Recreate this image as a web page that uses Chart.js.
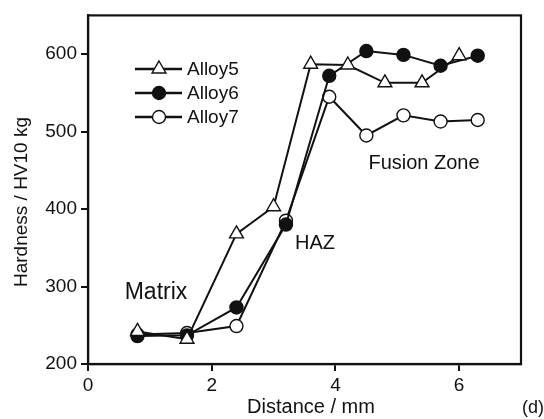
<!DOCTYPE html>
<html>
<head>
<meta charset="utf-8">
<script src="https://cdn.jsdelivr.net/npm/chart.js@4"></script>
<style>
  html, body { margin: 0; padding: 0; background: #fff; }
  #wrap { width: 544px; height: 419px; }
</style>
</head>
<body>
<div id="wrap"><canvas id="hardnessChart" width="544" height="419"></canvas></div>
<script>
// Hardness profile across the weld
const alloy5X = [0.8, 1.6, 2.4, 3.0, 3.6, 4.2, 4.8, 5.4, 6.0];
const alloy5Y = [242, 232, 368, 403, 587, 586, 563, 563, 598];

const alloy6X = [0.8, 1.6, 2.4, 3.2, 3.9, 4.5, 5.1, 5.7, 6.3];
const alloy6Y = [236, 237, 273, 380, 572, 604, 599, 585, 598];

const alloy7X = [0.8, 1.6, 2.4, 3.2, 3.9, 4.5, 5.1, 5.7, 6.3];
const alloy7Y = [238, 240, 249, 385, 545, 495, 521, 513, 515];

const seriesNames = ['Alloy5', 'Alloy6', 'Alloy7'];
const xTicks = [0, 2, 4, 6];
const yTicks = [200, 300, 400, 500, 600];

const FONT = '"Liberation Sans", Arial, Helvetica, sans-serif';
const INK = '#111';

const toPoints = (xs, ys) => xs.map((x, i) => ({ x: x, y: ys[i] }));

// frame, axis titles, zone labels and the line-marker-line legend
const decorations = {
    id: 'decorations',
    afterDatasetsDraw(chart) {
        const ctx = chart.ctx;
        const a = chart.chartArea;
        ctx.save();
        ctx.strokeStyle = INK;
        ctx.lineWidth = 2.2;
        ctx.strokeRect(a.left, a.top, a.right - a.left, a.bottom - a.top);

        ctx.fillStyle = INK;
        ctx.textBaseline = 'middle';
        ctx.textAlign = 'center';
        ctx.font = '20px ' + FONT;
        ctx.fillText('Distance / mm', 311, 407);
        ctx.fillText('HAZ', 315, 243);
        ctx.fillText('Fusion Zone', 424, 163);
        ctx.font = '23px ' + FONT;
        ctx.fillText('Matrix', 156, 293);
        ctx.font = '18px ' + FONT;
        ctx.textAlign = 'right';
        ctx.fillText('(d)', 544, 408);

        ctx.save();
        ctx.translate(22, 202);
        ctx.rotate(-Math.PI / 2);
        ctx.textAlign = 'center';
        ctx.font = '19px ' + FONT;
        ctx.fillText('Hardness / HV10 kg', 0, 0);
        ctx.restore();

        // legend
        const rows = [69, 93, 117];
        chart.data.datasets.forEach((ds, i) => {
            const y = rows[i];
            ctx.strokeStyle = INK;
            ctx.lineWidth = 2.4;
            ctx.beginPath();
            ctx.moveTo(135, y);
            ctx.lineTo(182, y);
            ctx.stroke();

            ctx.fillStyle = ds.pointBackgroundColor;
            ctx.lineWidth = ds.pointBorderWidth;
            ctx.beginPath();
            if (ds.pointStyle === 'circle') {
                ctx.arc(159, y, ds.pointRadius, 0, Math.PI * 2);
            } else {
                const r = ds.pointRadius;
                ctx.moveTo(159, y - r);
                ctx.lineTo(159 + r * Math.sin(Math.PI / 3), y + r * 0.5);
                ctx.lineTo(159 - r * Math.sin(Math.PI / 3), y + r * 0.5);
                ctx.closePath();
            }
            ctx.fill();
            ctx.stroke();

            ctx.fillStyle = INK;
            ctx.textAlign = 'left';
            ctx.font = '19px ' + FONT;
            ctx.fillText(ds.label, 187, y + 1);
        });
        ctx.restore();
    }
};

const baseSet = {
    showLine: true,
    borderColor: INK,
    borderWidth: 2,
    pointBorderColor: INK,
    pointBorderWidth: 1.4,
    tension: 0
};

new Chart(document.getElementById('hardnessChart').getContext('2d'), {
    type: 'scatter',
    data: {
        datasets: [
            Object.assign({}, baseSet, {
                label: seriesNames[0],
                data: toPoints(alloy5X, alloy5Y),
                pointStyle: 'triangle',
                pointRadius: 8,
                pointBackgroundColor: '#fff'
            }),
            Object.assign({}, baseSet, {
                label: seriesNames[1],
                data: toPoints(alloy6X, alloy6Y),
                pointStyle: 'circle',
                pointRadius: 6.5,
                pointBackgroundColor: INK
            }),
            Object.assign({}, baseSet, {
                label: seriesNames[2],
                data: toPoints(alloy7X, alloy7Y),
                pointStyle: 'circle',
                pointRadius: 6.5,
                pointBackgroundColor: '#fff'
            })
        ]
    },
    options: {
        responsive: false,
        animation: false,
        layout: { padding: { top: 12, right: 23, bottom: 0, left: 0 } },
        plugins: {
            legend: { display: false },
            tooltip: { enabled: false }
        },
        scales: {
            x: {
                type: 'linear',
                min: 0,
                max: 7,
                afterBuildTicks: s => { s.ticks = xTicks.map(v => ({ value: v })); },
                afterFit: s => { s.height = 55; },
                grid: { drawOnChartArea: false, drawTicks: true, tickLength: 7, color: INK, lineWidth: 2 },
                border: { display: true, color: INK, width: 2.2 },
                ticks: { color: INK, padding: 3, font: { size: 19, family: FONT } }
            },
            y: {
                type: 'linear',
                min: 200,
                max: 650,
                afterBuildTicks: s => { s.ticks = yTicks.map(v => ({ value: v })); },
                afterFit: s => { s.width = 88; },
                grid: { drawOnChartArea: false, drawTicks: true, tickLength: 7, color: INK, lineWidth: 2 },
                border: { display: true, color: INK, width: 2.2 },
                ticks: { color: INK, padding: 4, font: { size: 19, family: FONT } }
            }
        }
    },
    plugins: [decorations]
});
</script>
</body>
</html>
